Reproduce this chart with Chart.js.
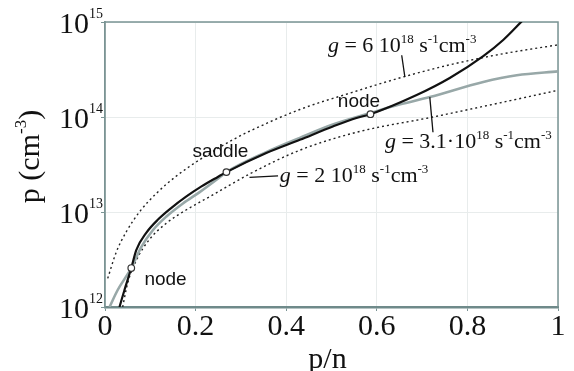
<!DOCTYPE html>
<html><head><meta charset="utf-8">
<script src="https://cdn.jsdelivr.net/npm/chart.js@4.4.0/dist/chart.umd.min.js"></script>
<style>html,body{margin:0;padding:0;background:#fff;overflow:hidden}#wrap{width:574px;height:371px;position:relative}</style>
</head><body><div id="wrap"><canvas id="c"></canvas></div>
<script>
// ---- data (x = p/n, y = p in cm^-3) ----
const pnBlack=[0.032,0.043,0.058,0.069,0.091,0.117,0.146,0.179,0.213,0.249,0.268,0.356,0.43,0.503,0.555,0.586,0.688,0.761,0.835,0.879,0.923];
const pBlack=[1.0e12,1.51e12,2.57e12,3.98e12,6.03e12,8.32e12,1.10e13,1.45e13,1.86e13,2.34e13,2.63e13,4.17e13,5.75e13,7.94e13,9.77e13,1.07e14,1.70e14,2.57e14,4.37e14,6.46e14,1.05e15];
const pnGray=[0.01,0.028,0.058,0.08,0.106,0.135,0.172,0.209,0.249,0.268,0.356,0.43,0.503,0.586,0.65,0.717,0.835,0.909,1.0];
const pGray=[1.0e12,1.51e12,2.57e12,4.27e12,6.46e12,8.91e12,1.23e13,1.62e13,2.24e13,2.63e13,4.27e13,6.03e13,8.32e13,1.10e14,1.35e14,1.62e14,2.34e14,2.75e14,3.02e14];
const pnG6=[0.006,0.025,0.048,0.076,0.114,0.158,0.209,0.282,0.319,0.43,0.54,0.657,0.762,0.872,1.0];
const pG6=[2.0e12,3.8e12,6.31e12,1.0e13,1.58e13,2.4e13,3.55e13,5.75e13,7.08e13,1.2e14,1.78e14,2.63e14,3.55e14,4.57e14,5.75e14];
const pnG2=[0.039,0.05,0.069,0.098,0.135,0.179,0.231,0.319,0.43,0.556,0.724,0.872,1.0];
const pG2=[1.0e12,1.78e12,3.09e12,5.13e12,7.59e12,1.05e13,1.45e13,2.51e13,4.47e13,6.92e13,1.0e14,1.41e14,1.91e14];
const pnMarks=[0.058,0.268,0.586];
const pMarks=[2.57e12,2.63e13,1.07e14];
const markLabels=['node','saddle','node'];
const xTicks=[0,0.2,0.4,0.6,0.8,1];
const yTickExps=[12,13,14,15];
const xTitle='p/n';
const yTitle=['p (cm','-3',')'];

// label anchors (data coords)
const markLabelPos=[[0.087,1.71e12],[0.193,3.79e13],[0.514,1.27e14]];
const gLabels=[
  {x:0.492,y:4.83e14,parts:[['g','i'],[' = 6 10','n'],['18','s'],[' s','n'],['-1','s'],['cm','n'],['-3','s']],lead:[[0.655,4.47e14],[0.662,2.63e14]]},
  {x:0.386,y:2.07e13,parts:[['g','i'],[' = 2 10','n'],['18','s'],[' s','n'],['-1','s'],['cm','n'],['-3','s']],lead:[[0.319,2.32e13],[0.382,2.4e13]]},
  {x:0.618,y:4.72e13,parts:[['g','i'],[' = 3.1\u00b710','n'],['18','s'],[' s','n'],['-1','s'],['cm','n'],['-3','s']],lead:[[0.717,1.62e14],[0.724,6.92e13]]}
];

const toPts=(xs,ys)=>xs.map((x,i)=>({x:x,y:ys[i]}));
const SERIF='"Liberation Serif", "Times New Roman", serif';
const SANS='"Liberation Sans", Arial, sans-serif';
const FRAME='#7a9494';

function drawRich(ctx,x,y,parts,size,supSize,family){
  let cx=x;
  for(const [t,k] of parts){
    const sz=k==='s'?supSize:size;
    ctx.font=(k==='i'?'italic ':'')+sz+'px '+family;
    const dy=k==='s'?-Math.round(size*0.42):0;
    ctx.fillText(t,cx,y+dy);
    cx+=ctx.measureText(t).width;
  }
  return cx-x;
}
function richWidth(ctx,parts,size,supSize,family){
  let w=0;
  for(const [t,k] of parts){
    const sz=k==='s'?supSize:size;
    ctx.font=(k==='i'?'italic ':'')+sz+'px '+family;
    w+=ctx.measureText(t).width;
  }
  return w;
}

const framePlugin={
  id:'frame',
  beforeDatasetsDraw(chart){
    const {ctx,chartArea:a}=chart;
    ctx.save();
    ctx.strokeStyle=FRAME;ctx.lineWidth=1.5;
    ctx.beginPath();
    ctx.moveTo(a.left,a.top);ctx.lineTo(a.right,a.top);ctx.lineTo(a.right,a.bottom);
    ctx.stroke();
    ctx.restore();
  },
  afterDraw(chart){
    const {ctx,scales:{x,y}}=chart;
    ctx.save();
    ctx.fillStyle='#111';
    ctx.textAlign='left';ctx.textBaseline='alphabetic';
    // y tick labels 10^n
    for(const e of yTickExps){
      const py=y.getPixelForValue(Math.pow(10,e));
      ctx.font='14px '+SERIF;
      const sw=ctx.measureText(String(e)).width;
      ctx.fillText(String(e),103-sw,py-4);
      ctx.font='30px '+SERIF;
      const bw=ctx.measureText('10').width;
      ctx.fillText('10',103-sw-bw,py+11);
    }
    // x title
    ctx.font='30px '+SERIF;
    ctx.textAlign='center';
    ctx.fillText(xTitle,(x.left+x.right)/2+-4,368);
    ctx.textAlign='left';
    // y title rotated
    ctx.save();
    const yparts=[[yTitle[0],'n'],[yTitle[1],'s'],[yTitle[2],'n']];
    ctx.translate(31,(y.top+y.bottom)/2-8);
    ctx.rotate(-Math.PI/2);
    const tw=richWidth(ctx,yparts,30,17,SERIF);
    drawRich(ctx,-tw/2,7.5,yparts,30,17,SERIF);
    ctx.restore();
    // leader lines
    ctx.strokeStyle='#111';ctx.lineWidth=1.3;
    for(const g of gLabels){
      ctx.beginPath();
      ctx.moveTo(x.getPixelForValue(g.lead[0][0]),y.getPixelForValue(g.lead[0][1]));
      ctx.lineTo(x.getPixelForValue(g.lead[1][0]),y.getPixelForValue(g.lead[1][1]));
      ctx.stroke();
      drawRich(ctx,x.getPixelForValue(g.x),y.getPixelForValue(g.y),g.parts,22,13,SERIF);
    }
    // node / saddle labels
    ctx.font='19px '+SANS;
    markLabels.forEach((t,i)=>{
      ctx.fillText(t,x.getPixelForValue(markLabelPos[i][0]),y.getPixelForValue(markLabelPos[i][1]));
    });
    ctx.restore();
  }
};

new Chart(document.getElementById('c'),{
  type:'line',
  data:{datasets:[
    {label:'points',type:'scatter',data:toPts(pnMarks,pMarks),pointRadius:3.3,pointBackgroundColor:'#fff',pointBorderColor:'#333',pointBorderWidth:1.2,showLine:false},
    {label:'black',data:toPts(pnBlack,pBlack),borderColor:'#111',borderWidth:2.2,pointRadius:0,cubicInterpolationMode:'monotone',fill:false},
    {label:'gray',data:toPts(pnGray,pGray),borderColor:'#98a8a8',borderWidth:2.6,pointRadius:0,cubicInterpolationMode:'monotone',fill:false},
    {label:'g6',data:toPts(pnG6,pG6),borderColor:'#222',borderWidth:1.4,borderDash:[2,3],pointRadius:0,cubicInterpolationMode:'monotone',fill:false},
    {label:'g2',data:toPts(pnG2,pG2),borderColor:'#222',borderWidth:1.4,borderDash:[2,3],pointRadius:0,cubicInterpolationMode:'monotone',fill:false}
  ]},
  options:{
    responsive:true,maintainAspectRatio:false,animation:false,devicePixelRatio:1,
    layout:{padding:{top:22,right:16,left:0,bottom:0}},
    plugins:{legend:{display:false},tooltip:{enabled:false}},
    scales:{
      x:{type:'linear',min:0,max:1,
        afterBuildTicks:s=>{s.ticks=xTicks.map(v=>({value:v}));},
        ticks:{font:{family:SERIF,size:30},color:'#111',padding:-2,maxRotation:0,autoSkip:false,callback:v=>String(v)},
        grid:{color:'#e8ecec',tickColor:FRAME,tickLength:4,lineWidth:1},
        border:{color:'#6f8a8a',width:2.5},
        afterFit:s=>{s.height=64;}
      },
      y:{type:'logarithmic',min:1e12,max:1e15,
        afterBuildTicks:s=>{s.ticks=yTickExps.map(e=>({value:Math.pow(10,e)}));},
        ticks:{callback:()=>''},
        grid:{color:'#e8ecec',tickColor:FRAME,tickLength:4,lineWidth:1},
        border:{color:FRAME,width:1.8},
        afterFit:s=>{s.width=105;}
      }
    }
  },
  plugins:[framePlugin]
});
</script></body></html>
